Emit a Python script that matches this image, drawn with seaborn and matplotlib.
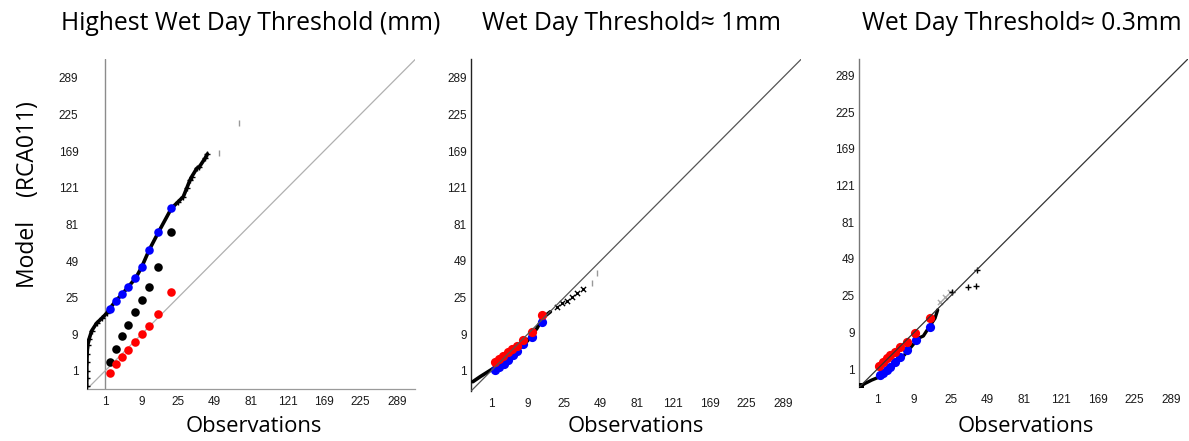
import numpy as np
import matplotlib
matplotlib.use("Agg")
import matplotlib.pyplot as plt
import seaborn as sns

# ---------------- data (mm) ----------------
tick_vals = [1, 9, 25, 49, 81, 121, 169, 225, 289]
tick_labels = ["1", "9", "25", "49", "81", "121", "169", "225", "289"]

titles = ["Highest Wet Day Threshold (mm)", "Wet Day Threshold\u2248 1mm", "Wet Day Threshold\u2248 0.3mm"]

# Panel 1
p1_curve_x = [0, 0, 0, 0.0001, 0.0004, 0.0025, 0.017, 0.073, 0.29, 0.67, 1.19, 1.59, 2.53, 3.76, 5.15,
              7.13, 9.0, 11.7, 15.4, 21.5, 25.2, 28.0, 30.0, 32.0, 33.1, 36.4, 38.1, 42.0, 43.7]
p1_curve_y = [0.04, 0.36, 1.0, 2.25, 3.8, 5.76, 7.56, 10.2, 13.0, 15.0, 17.2, 19.4, 23.3, 26.9, 31.2,
              36.6, 44.2, 57.8, 73.3, 97.4, 104.9, 110.5, 120.3, 130.4, 134.6, 145.4, 147.4, 158.8, 164.9]
p1_tail_x = [52.7, 69.9]
p1_tail_y = [165.6, 210.5]
p1_dot_x = [1.59, 2.53, 3.76, 5.15, 7.13, 9.0, 11.7, 15.4, 21.5]
p1_blue_y = [19.4, 23.3, 26.9, 31.2, 36.6, 44.2, 57.8, 73.3, 97.4]
p1_black_y = [2.2, 4.9, 8.5, 12.3, 17.6, 23.6, 31.2, 44.6, 73.3]
p1_red_y = [0.83, 1.9, 3.2, 4.7, 6.7, 9.0, 12.0, 17.1, 27.9]

# Panel 2
p2_curve_x = [0, 0.17, 1.1, 2.25, 4.0, 6.25, 9.0, 10.5, 12.4, 14.6, 18.1]
p2_curve_y = [0.17, 0.48, 1.19, 1.96, 3.06, 4.84, 7.02, 8.82, 11.1, 15.1, 17.9]
p2_tail_x = [21.3, 23.8, 26.5, 29.4, 32.5, 36.8]
p2_tail_y = [20.3, 22.0, 23.4, 25.6, 27.5, 29.8]
p2_gray_x = [42.6, 46.2]
p2_gray_y = [33.4, 40.1]
p2_blue_x = [1.44, 2.1, 2.89, 3.8, 4.84, 6.0, 7.56, 10.4, 14.6]
p2_blue_y = [1.1, 1.44, 1.96, 2.62, 3.42, 4.41, 6.0, 8.12, 13.6]
p2_red_x = [1.42, 1.99, 2.72, 3.65, 4.62, 5.86, 7.45, 10.5, 14.6]
p2_red_y = [2.28, 2.76, 3.39, 4.08, 4.84, 5.66, 7.24, 9.92, 16.5]

# Panel 3
p3_curve_x = [0.0025, 0.09, 0.48, 1.3, 2.25, 4.0, 6.25, 9.0, 10.4, 12.25, 15.6, 17.1, 18.3]
p3_curve_y = [0.0016, 0.04, 0.16, 0.34, 0.72, 1.69, 3.24, 5.76, 7.18, 7.84, 12.2, 14.2, 17.8]
p3_gray_x = [19.4, 21.8, 24.5]
p3_gray_y = [21.8, 24.4, 27.2]
p3_tail_x = [25.7, 35.0, 40.2, 41.1]
p3_tail_y = [27.2, 30.1, 30.7, 41.0]
p3_blue_x = [1.32, 1.69, 2.25, 2.89, 3.84, 4.97, 6.71, 9.49, 15.1]
p3_blue_y = [0.49, 0.64, 0.9, 1.25, 1.96, 2.79, 4.24, 6.55, 10.9]
p3_red_x = [1.21, 1.69, 2.25, 2.89, 3.8, 4.93, 6.76, 9.36, 15.1]
p3_red_y = [1.39, 1.9, 2.56, 3.17, 3.76, 4.8, 6.1, 8.7, 14.5]

# ---------------- style ----------------
sns.set_style("white")
plt.rcParams["font.family"] = ["Liberation Sans", "DejaVu Sans"]

W, H = 1189, 441
fig = plt.figure(figsize=(W / 100, H / 100), dpi=100)


def fwd(v):
    v = np.asarray(v, dtype=float)
    return np.sign(v) * np.sqrt(np.abs(v))


def inv(v):
    v = np.asarray(v, dtype=float)
    return np.sign(v) * v ** 2


def make_ax(x0, x1, y_bot, y_top, lo, hi):
    ax = fig.add_axes([x0 / W, 1 - y_bot / H, (x1 - x0) / W, (y_bot - y_top) / H])
    ax.set_xscale("function", functions=(fwd, inv))
    ax.set_yscale("function", functions=(fwd, inv))
    ax.set_xlim(lo, hi)
    ax.set_ylim(lo, hi)
    ax.set_xticks(tick_vals)
    ax.set_xticklabels(tick_labels)
    ax.set_yticks(tick_vals)
    ax.set_yticklabels(tick_labels)
    ax.minorticks_off()
    ax.tick_params(axis="both", labelsize=8.5, labelcolor="#1a1a1a", direction="in",
                   length=3, width=0.8, color="#999999")
    ax.tick_params(axis="x", pad=5)
    ax.tick_params(axis="y", pad=3)
    for s in ["top", "right"]:
        ax.spines[s].set_visible(False)
    ax.set_facecolor("white")
    return ax


dot_s = 38

# Panel 1
ax1 = make_ax(86.75, 415.25, 389.3, 59.4, 0, 324)
ax1.spines["left"].set_visible(False)
ax1.spines["bottom"].set_color("#9a9a9a")
ax1.spines["bottom"].set_linewidth(0.9)
ax1.tick_params(axis="y", direction="out", length=3, color="#444444")
ax1.axvline(1, color="#8c8c8c", lw=1.0, zorder=1)
ax1.plot([0, 324], [0, 324], color="#b0b0b0", lw=0.9, zorder=1)
sns.lineplot(x=p1_curve_x, y=p1_curve_y, ax=ax1, sort=False, estimator=None,
             color="black", lw=2.6, marker="+", markersize=4, mew=1, mec="black", zorder=3)
sns.scatterplot(x=p1_tail_x, y=p1_tail_y, ax=ax1, marker="|", s=18, color="#999999", linewidth=1, zorder=3)
sns.scatterplot(x=p1_dot_x, y=p1_black_y, ax=ax1, color="black", s=dot_s, linewidth=0, zorder=4)
sns.scatterplot(x=p1_dot_x, y=p1_red_y, ax=ax1, color="#ff0000", s=dot_s, linewidth=0, zorder=4)
sns.scatterplot(x=p1_dot_x, y=p1_blue_y, ax=ax1, color="#0000ff", s=dot_s, linewidth=0, zorder=5)

# Panel 2
ax2 = make_ax(471, 801, 391.1, 59.4, -0.01, 324)
ax2.spines["bottom"].set_visible(False)
ax2.spines["left"].set_color("#222222")
ax2.spines["left"].set_linewidth(1.0)
sns.lineplot(x=p2_curve_x, y=p2_curve_y, ax=ax2, sort=False, estimator=None,
             color="black", lw=2.6, zorder=3)
sns.scatterplot(x=p2_tail_x, y=p2_tail_y, ax=ax2, marker="x", s=14, color="black", linewidth=1, zorder=3)
sns.scatterplot(x=p2_gray_x, y=p2_gray_y, ax=ax2, marker="|", s=18, color="#999999", linewidth=1, zorder=3)
sns.scatterplot(x=p2_blue_x, y=p2_blue_y, ax=ax2, color="#0000ff", s=dot_s + 6, linewidth=0, zorder=4)
sns.scatterplot(x=p2_red_x, y=p2_red_y, ax=ax2, color="#ff0000", s=dot_s + 6, linewidth=0, zorder=5)
ax2.plot([-0.01, 324], [-0.01, 324], color="#555555", lw=0.9, zorder=6)

# Panel 3
ax3 = make_ax(859, 1188, 387.4, 58.9, 0, 320.4)
ax3.spines["bottom"].set_visible(False)
ax3.spines["left"].set_color("#777777")
ax3.spines["left"].set_linewidth(1.0)
sns.lineplot(x=p3_curve_x, y=p3_curve_y, ax=ax3, sort=False, estimator=None,
             color="black", lw=2.4, zorder=3)
sns.scatterplot(x=[p3_curve_x[0]], y=[p3_curve_y[0]], ax=ax3, marker="s", s=30, color="black",
                linewidth=0, zorder=3)
sns.scatterplot(x=p3_gray_x, y=p3_gray_y, ax=ax3, marker="x", s=14, color="#aaaaaa", linewidth=1, zorder=3)
sns.scatterplot(x=p3_tail_x, y=p3_tail_y, ax=ax3, marker="+", s=18, color="black", linewidth=1, zorder=3)
sns.scatterplot(x=p3_blue_x, y=p3_blue_y, ax=ax3, color="#0000ff", s=dot_s + 6, linewidth=0, zorder=4)
sns.scatterplot(x=p3_red_x, y=p3_red_y, ax=ax3, color="#ff0000", s=dot_s + 6, linewidth=0, zorder=5)
ax3.plot([0, 320.4], [0, 320.4], color="#333333", lw=0.9, zorder=6)

for ax in (ax1, ax2, ax3):
    ax.set_xlabel("")
    ax.set_ylabel("")

# Titles and labels
tfont = ["Open Sans", "DejaVu Sans"]
for cx, t in zip([251, 631, 1022], titles):
    fig.text(cx / W, 1 - 23 / H, t, ha="center", va="center", fontsize=17.8, family=tfont, color="black")
for cx in [254, 636, 1026]:
    fig.text(cx / W, 1 - 427 / H, "Observations", ha="center", va="center", fontsize=15.8,
             family=tfont, color="black")
fig.text(28 / W, 1 - 195 / H, "Model    (RCA011)", ha="center", va="center", rotation=90,
         fontsize=16.5, family=tfont, color="black")

fig.savefig("out.png", dpi=100, facecolor="white")
